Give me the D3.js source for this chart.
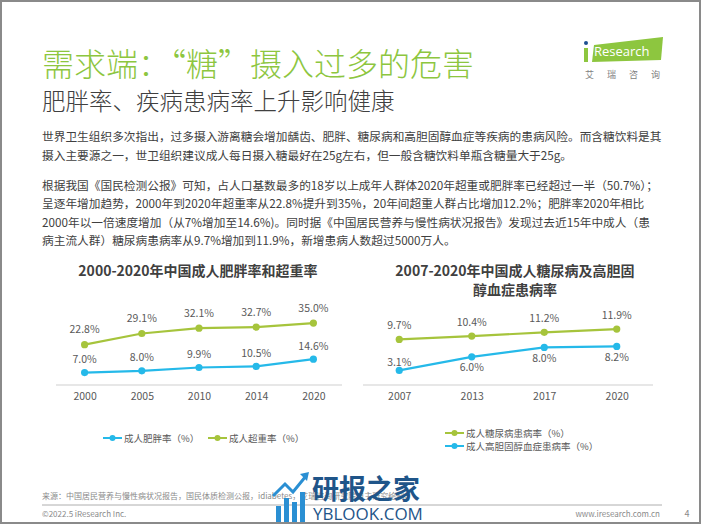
<!DOCTYPE html>
<html><head><meta charset="utf-8">
<script src="https://cdn.jsdelivr.net/npm/d3@7/dist/d3.min.js"></script>
<style>
html,body{margin:0;padding:0;background:#fff;}
svg{display:block;font-family:"Noto Sans CJK SC","Noto Sans",sans-serif;}
</style></head>
<body>
<svg id="c" width="702" height="527"></svg>
<script>
// ---- data ----
const years1 = ["2000","2005","2010","2014","2020"];
const obesity = [7.0, 8.0, 9.9, 10.5, 14.6];
const overweight = [22.8, 29.1, 32.1, 32.7, 35.0];
const years2 = ["2007","2013","2017","2020"];
const diabetes = [9.7, 10.4, 11.2, 11.9];
const cholesterol = [3.1, 6.0, 8.0, 8.2];
const legend1 = ["成人肥胖率（%）","成人超重率（%）"];
const legend2 = ["成人糖尿病患病率（%）","成人高胆固醇血症患病率（%）"];
const title1 = "2000-2020年中国成人肥胖率和超重率";
const title2 = ["2007-2020年中国成人糖尿病及高胆固","醇血症患病率"];
const para1 = ["世界卫生组织多次指出，过多摄入游离糖会增加龋齿、肥胖、糖尿病和高胆固醇血症等疾病的患病风险。而含糖饮料是其",
"摄入主要源之一，世卫组织建议成人每日摄入糖最好在25g左右，但一般含糖饮料单瓶含糖量大于25g。"];
const para2 = ["根据我国《国民检测公报》可知，占人口基数最多的18岁以上成年人群体2020年超重或肥胖率已经超过一半（50.7%）；",
"呈逐年增加趋势，2000年到2020年超重率从22.8%提升到35%，20年间超重人群占比增加12.2%；肥胖率2020年相比",
"2000年以一倍速度增加（从7%增加至14.6%)。同时据《中国居民营养与慢性病状况报告》发现过去近15年中成人（患",
"病主流人群）糖尿病患病率从9.7%增加到11.9%，新增患病人数超过5000万人。"];

const GREEN = "#a6c43c", BLUE = "#25b9e9", TXT = "#595959";
const svg = d3.select("#c");

// frame
svg.append("rect").attr("x",1).attr("y",1).attr("width",699).attr("height",522)
  .attr("fill","none").attr("stroke","#8a8a8a").attr("stroke-width",2);

// header
svg.append("text").attr("x",42).attr("y",62).attr("dominant-baseline","central")
  .attr("font-size",32).attr("fill","#8dc63f").attr("font-weight",300)
  .text("需求端：“糖”摄入过多的危害");
svg.append("text").attr("x",42).attr("y",100).attr("dominant-baseline","central")
  .attr("font-size",23.5).attr("fill","#404040").attr("font-weight",300)
  .text("肥胖率、疾病患病率上升影响健康");

// logo
svg.append("polygon").attr("points","594,45 663,37 661,60 592,62").attr("fill","#8dc63f");
svg.append("rect").attr("x",584).attr("y",48).attr("width",4).attr("height",14).attr("fill","#8dc63f");
svg.append("circle").attr("cx",586).attr("cy",43).attr("r",2).attr("fill","#1d4f91");
svg.append("text").attr("x",594).attr("y",51).attr("dominant-baseline","central")
  .attr("font-size",13).attr("fill","#fff")
  .attr("font-family","Open Sans, sans-serif").text("Research");
svg.append("text").attr("x",585).attr("y",74).attr("dominant-baseline","central")
  .attr("font-size",9).attr("fill","#808080").attr("letter-spacing",13).text("艾瑞咨询");

// body text
para1.forEach((t,i)=>svg.append("text").attr("x",42).attr("y",135+i*19)
  .attr("dominant-baseline","central").attr("font-size",11.7).attr("fill","#404040").text(t));
para2.forEach((t,i)=>svg.append("text").attr("x",42).attr("y",184+i*18.5)
  .attr("dominant-baseline","central").attr("font-size",11.7).attr("fill","#404040").text(t));

// generic chart drawer
function drawSeries(g, x, y, cats, vals, color, labelOffset){
  const line = d3.line().x((d,i)=>x(cats[i])).y(d=>y(d));
  g.append("path").datum(vals).attr("d",line).attr("fill","none")
    .attr("stroke",color).attr("stroke-width",2.2);
  g.selectAll(null).data(vals).enter().append("circle")
    .attr("cx",(d,i)=>x(cats[i])).attr("cy",d=>y(d)).attr("r",3.6).attr("fill",color);
  g.selectAll(null).data(vals).enter().append("text")
    .attr("x",(d,i)=>x(cats[i])).attr("y",(d,i)=>y(d)+labelOffset(i))
    .attr("text-anchor","middle").attr("dominant-baseline","central")
    .attr("font-size",10.5).attr("fill",TXT).text(d=>d.toFixed(1)+"%");
}
function drawAxis(g, x, y0, x0, x1){
  g.append("line").attr("x1",x0).attr("x2",x1).attr("y1",y0).attr("y2",y0)
    .attr("stroke","#d0d0d0").attr("stroke-width",1.2);
  const ax = g.append("g").attr("transform",`translate(0,${y0})`)
    .call(d3.axisBottom(x).tickSize(0).tickPadding(8));
  ax.select(".domain").remove();
  ax.selectAll("text").attr("font-size",10.5).attr("fill",TXT)
    .attr("font-family","Noto Sans CJK SC, sans-serif").attr("dy","0.7em");
}
function legendItem(g, x, y, color, label){
  g.append("line").attr("x1",x).attr("x2",x+19).attr("y1",y).attr("y2",y)
    .attr("stroke",color).attr("stroke-width",2);
  g.append("circle").attr("cx",x+9.5).attr("cy",y).attr("r",3).attr("fill",color);
  g.append("text").attr("x",x+21).attr("y",y).attr("dominant-baseline","central")
    .attr("font-size",9.5).attr("fill",TXT).text(label);
}

// chart 1
const g1 = svg.append("g");
const x1 = d3.scalePoint().domain(years1).range([56,342]).padding(0.5);
const y1 = d3.scaleLinear().domain([0,40]).range([385,314.2]);
g1.append("text").attr("x",198).attr("y",270).attr("text-anchor","middle")
  .attr("dominant-baseline","central").attr("font-size",14).attr("font-weight","bold")
  .attr("fill","#404040").text(title1);
drawAxis(g1, x1, 385, 56, 342);
drawSeries(g1, x1, y1, years1, overweight, GREEN, ()=>-16);
drawSeries(g1, x1, y1, years1, obesity, BLUE, ()=>-14);
legendItem(g1, 103, 438, BLUE, legend1[0]);
legendItem(g1, 208, 438, GREEN, legend1[1]);

// chart 2
const g2 = svg.append("g");
const x2 = d3.scalePoint().domain(years2).range([363,653]).padding(0.5);
const y2 = d3.scaleLinear().domain([0,14]).range([385,319.2]);
title2.forEach((t,i)=>g2.append("text").attr("x",515).attr("y",270+i*18.5)
  .attr("text-anchor","middle").attr("dominant-baseline","central").attr("font-size",14)
  .attr("font-weight","bold").attr("fill","#404040").text(t));
drawAxis(g2, x2, 385, 363, 653);
drawSeries(g2, x2, y2, years2, diabetes, GREEN, ()=>-15);
drawSeries(g2, x2, y2, years2, cholesterol, BLUE, i=> i===0 ? -9 : 10);
legendItem(g2, 445, 433, GREEN, legend2[0]);
legendItem(g2, 445, 446, BLUE, legend2[1]);

// footer
svg.append("text").attr("x",42).attr("y",495).attr("dominant-baseline","central")
  .attr("font-size",8).attr("fill","#8a8a8a")
  .text("来源：中国居民营养与慢性病状况报告，国民体质检测公报，idiabetes，艾瑞咨询研究院自主研究绘制。");
svg.append("line").attr("x1",42).attr("x2",662).attr("y1",505).attr("y2",505)
  .attr("stroke","#9a9a9a").attr("stroke-width",0.8);
svg.append("text").attr("x",42).attr("y",513).attr("dominant-baseline","central")
  .attr("font-size",8).attr("fill","#8a8a8a").text("©2022.5 iResearch Inc.");
svg.append("text").attr("x",660).attr("y",513).attr("dominant-baseline","central")
  .attr("text-anchor","end").attr("font-size",8).attr("fill","#8a8a8a").text("www.iresearch.com.cn");
svg.append("text").attr("x",687).attr("y",513).attr("dominant-baseline","central")
  .attr("text-anchor","middle").attr("font-size",9).attr("fill","#8a8a8a").text("4");

// watermark
const wm = svg.append("g");
[[276,506,5,16],[284,498,5,24],[292,502,5,20],[300,492,5,30]].forEach(b=>
  wm.append("rect").attr("x",b[0]).attr("y",b[1]).attr("width",b[2]).attr("height",b[3]).attr("fill","#2a8fd3"));
wm.append("path").attr("d","M273,496 L285,484 L293,492 L306,476").attr("fill","none")
  .attr("stroke","#2a8fd3").attr("stroke-width",3);
wm.append("path").attr("d","M300,474 L309,472 L307,481 Z").attr("fill","#2a8fd3");
wm.append("text").attr("x",312).attr("y",487).attr("dominant-baseline","central")
  .attr("font-size",27).attr("font-weight","bold").attr("fill","#1f5589").text("研报之家");
wm.append("text").attr("x",313).attr("y",513).attr("dominant-baseline","central")
  .attr("font-size",17).attr("fill","#1f5589").attr("font-family","Open Sans, sans-serif").text("YBLOOK.COM");
</script>
</body></html>
